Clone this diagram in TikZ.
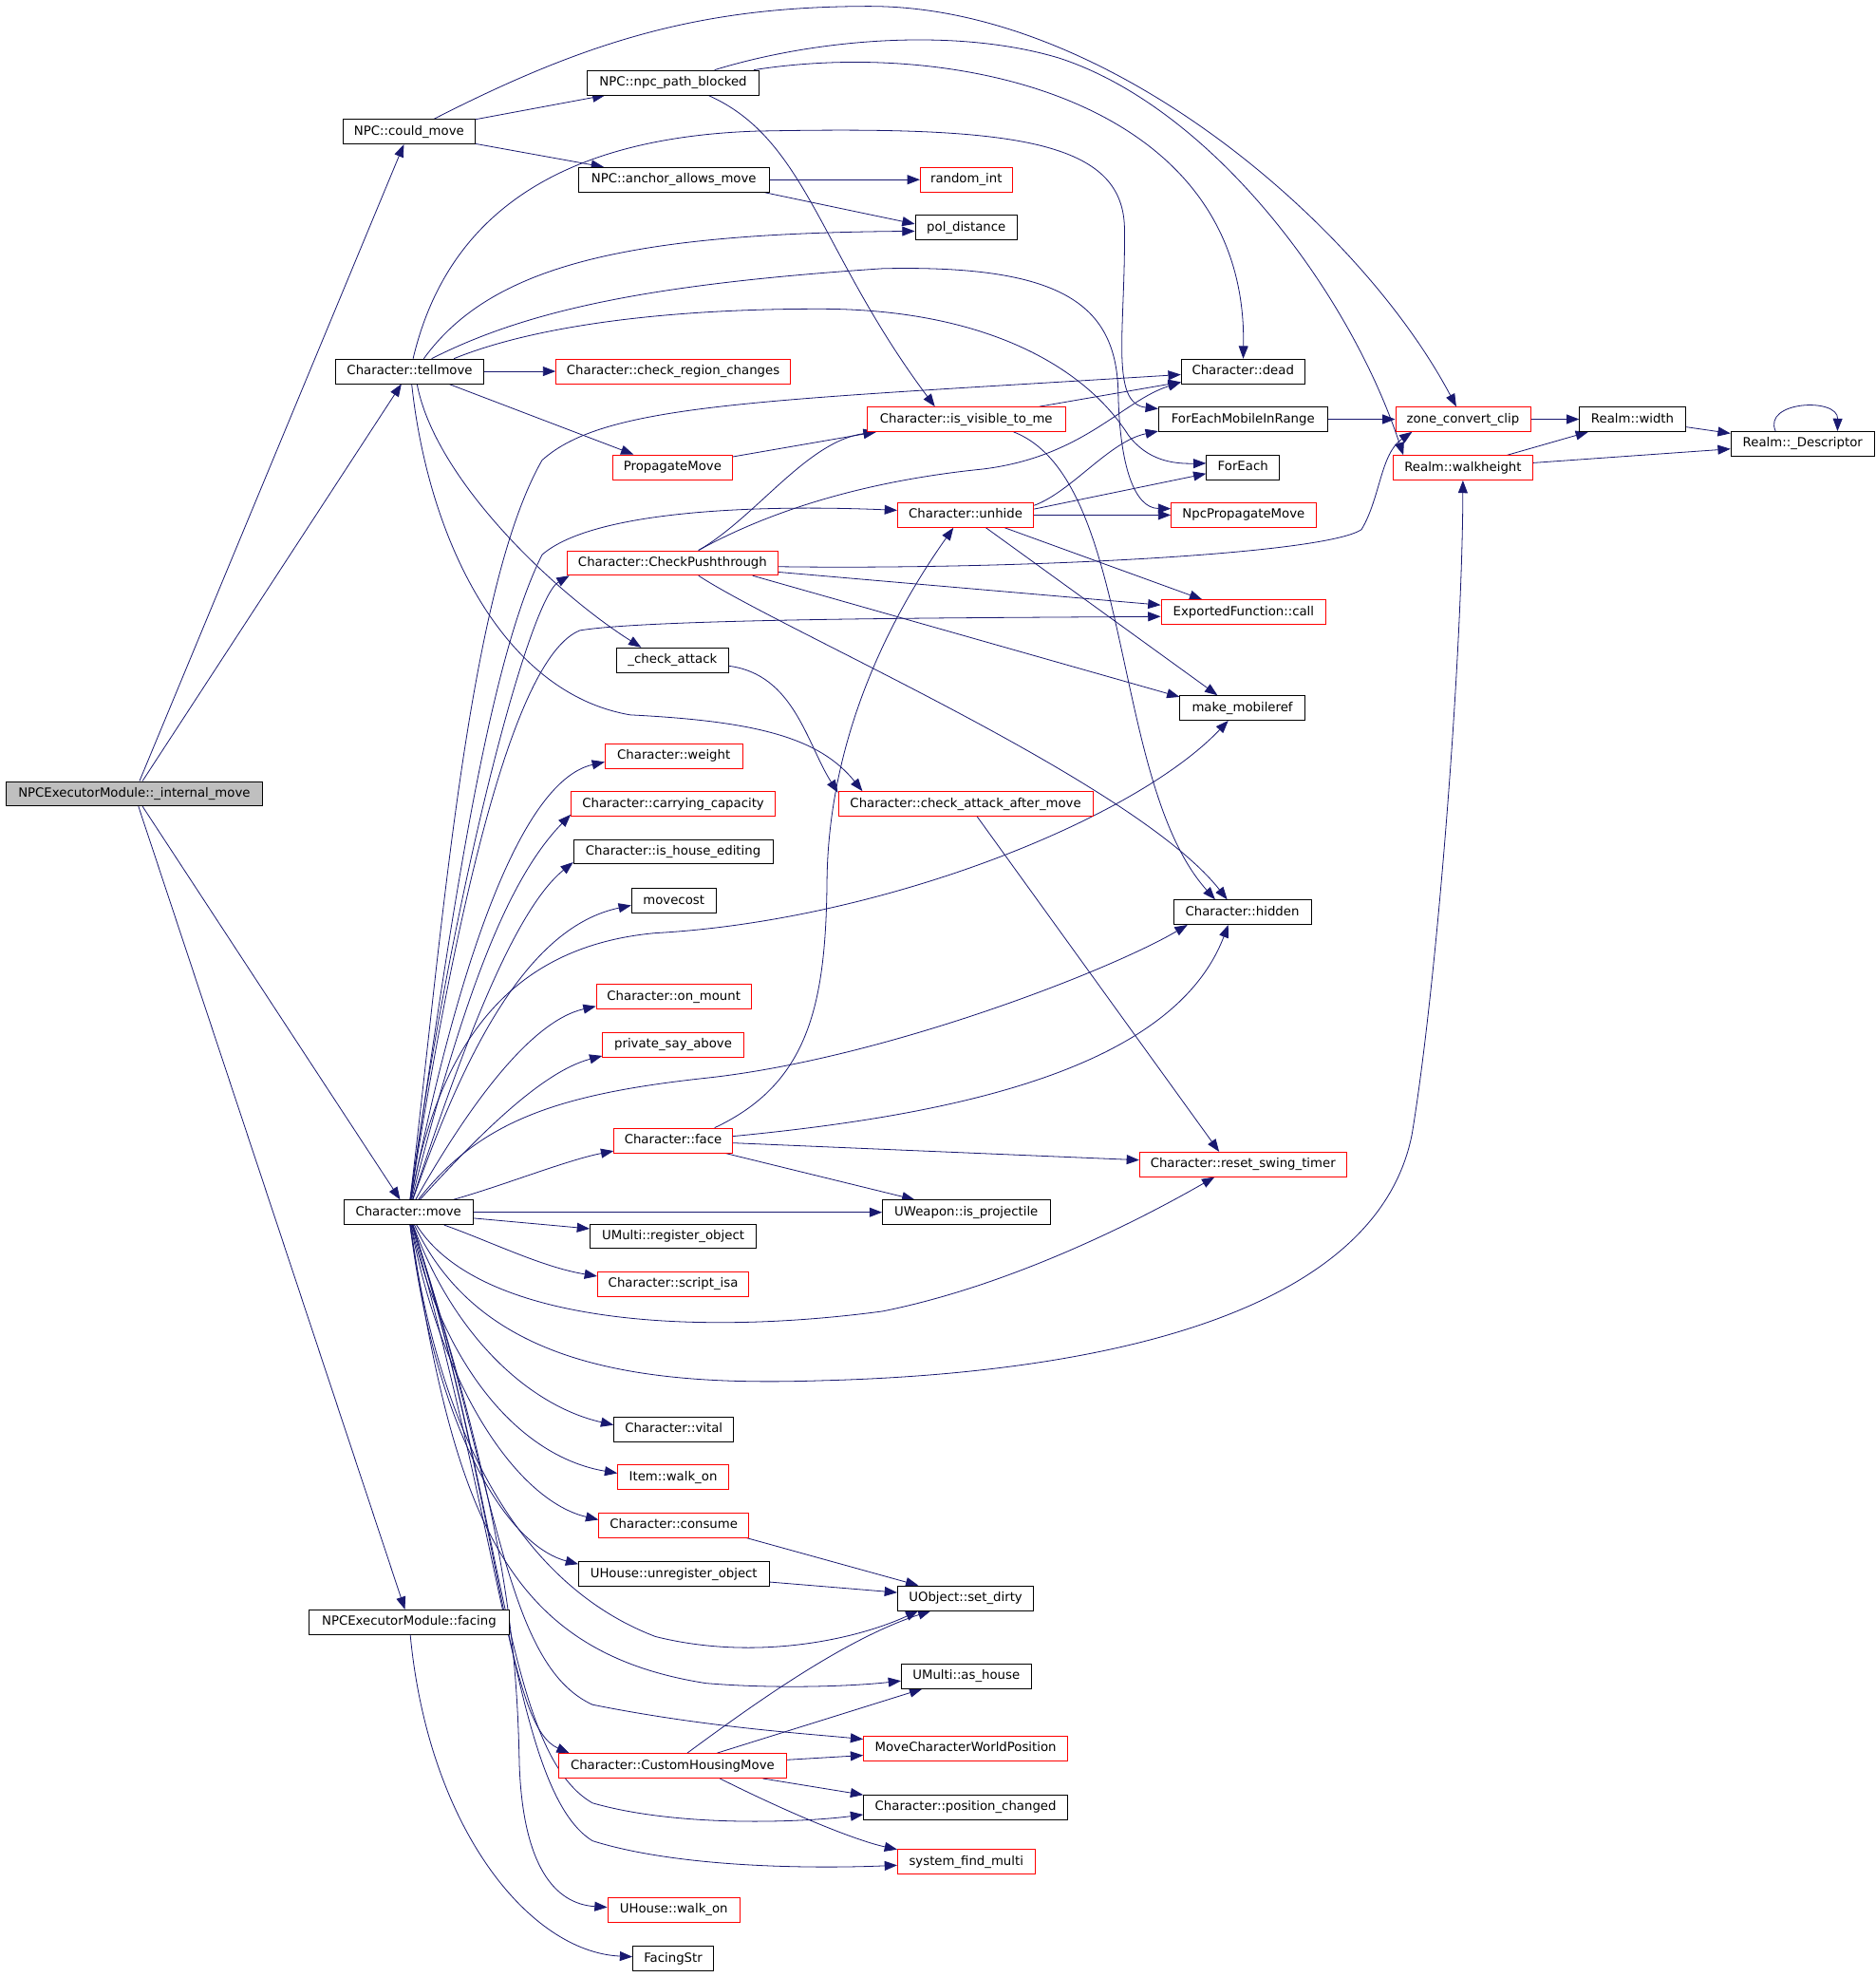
\documentclass[tikz,border=0pt]{standalone}
\usepackage{fontspec}
\setmainfont{DejaVu Sans}
\usetikzlibrary{arrows.meta,backgrounds}
\definecolor{edgeblue}{HTML}{191970}
\definecolor{rootgray}{HTML}{BFBFBF}

\begin{document}
\begin{tikzpicture}[x=1pt,y=-1pt]
    % --- Styles ---
    \tikzstyle{func_node}=[draw=black, fill=white, line width=0.6pt, rectangle, inner xsep=2pt, inner ysep=0pt, minimum height=19.5pt, text height=7.4pt, text depth=2.1pt, font=\fontsize{10}{12}\selectfont]
    \tikzstyle{func_red}=[func_node, draw=red]
    \tikzstyle{root_node}=[func_node, fill=rootgray]
    \tikzstyle{call_edge}=[draw=edgeblue, line width=0.6pt, -{Triangle[length=10pt,width=7.5pt]}]

    \useasboundingbox (0,0) rectangle (1488,1568);

    % --- 1. Caller ---
    \node[root_node, minimum width=204pt] (root) at (106.5,629.5) {NPCExecutorModule::\_internal\_move};

    % --- 2. First column ---
    \node[func_node, minimum width=105pt] (could) at (324.5,104.5) {NPC::could\_move};
    \node[func_node, minimum width=118pt] (tellmove) at (325,294.5) {Character::tellmove};
    \node[func_node, minimum width=102pt] (move) at (324,961.5) {Character::move};
    \node[func_node, minimum width=159pt] (facing) at (324.5,1286.5) {NPCExecutorModule::facing};

    % --- 3. Second column ---
    \node[func_node, minimum width=136pt] (pathblk) at (534,65.5) {NPC::npc\_path\_blocked};
    \node[func_node, minimum width=151pt] (anchor) at (534.5,142.5) {NPC::anchor\_allows\_move};
    \node[func_red, minimum width=186pt] (regionchg) at (534,294.5) {Character::check\_region\_changes};
    \node[func_red, minimum width=95pt] (propmove) at (533.5,370.5) {PropagateMove};
    \node[func_red, minimum width=167pt] (pushthr) at (533.5,446.5) {Character::CheckPushthrough};
    \node[func_node, minimum width=89pt] (chkatt) at (533.5,523.5) {\_check\_attack};
    \node[func_red, minimum width=109pt] (weight) at (534.5,599.5) {Character::weight};
    \node[func_red, minimum width=162pt] (carrycap) at (534,637.5) {Character::carrying\_capacity};
    \node[func_node, minimum width=158pt] (houseed) at (534,675.5) {Character::is\_house\_editing};
    \node[func_node, minimum width=67pt] (movecost) at (534.5,714.5) {movecost};
    \node[func_red, minimum width=123pt] (onmount) at (534.5,790.5) {Character::on\_mount};
    \node[func_red, minimum width=112pt] (sayabove) at (534,828.5) {private\_say\_above};
    \node[func_red, minimum width=94pt] (face) at (534,904.5) {Character::face};
    \node[func_node, minimum width=132pt] (regobj) at (534,980.5) {UMulti::register\_object};
    \node[func_red, minimum width=120pt] (scriptisa) at (534,1018.5) {Character::script\_isa};
    \node[func_node, minimum width=95pt] (vital) at (534.5,1133.5) {Character::vital};
    \node[func_red, minimum width=88pt] (walkon) at (534,1171.5) {Item::walk\_on};
    \node[func_red, minimum width=119pt] (consume) at (534.5,1209.5) {Character::consume};
    \node[func_node, minimum width=151pt] (unregobj) at (534.5,1248.5) {UHouse::unregister\_object};
    \node[func_red, minimum width=181pt] (chmove) at (533.5,1400.5) {Character::CustomHousingMove};
    \node[func_red, minimum width=105pt] (hwalkon) at (534.5,1514.5) {UHouse::walk\_on};
    \node[func_node, minimum width=64pt] (facingstr) at (534,1553.5) {FacingStr};

    % --- 4. Third column ---
    \node[func_red, minimum width=73pt] (randint) at (766.5,142.5) {random\_int};
    \node[func_node, minimum width=81pt] (poldist) at (766.5,180.5) {pol\_distance};
    \node[func_red, minimum width=157pt] (visible) at (766.5,332.5) {Character::is\_visible\_to\_me};
    \node[func_red, minimum width=108pt] (unhide) at (766,408.5) {Character::unhide};
    \node[func_red, minimum width=202pt] (chkafter) at (766,637.5) {Character::check\_attack\_after\_move};
    \node[func_node, minimum width=133pt] (isproj) at (766.5,961.5) {UWeapon::is\_projectile};
    \node[func_node, minimum width=108pt] (setdirty) at (766,1267.5) {UObject::set\_dirty};
    \node[func_node, minimum width=103pt] (ashouse) at (766.5,1329.5) {UMulti::as\_house};
    \node[func_red, minimum width=162pt] (movecwp) at (766,1386.5) {MoveCharacterWorldPosition};
    \node[func_node, minimum width=162pt] (poschg) at (766,1433.5) {Character::position\_changed};
    \node[func_red, minimum width=109pt] (sysfind) at (766.5,1476.5) {system\_find\_multi};

    % --- 5. Fourth column ---
    \node[func_node, minimum width=98pt] (dead) at (986,294.5) {Character::dead};
    \node[func_node, minimum width=134pt] (foreachmob) at (986,332.5) {ForEachMobileInRange};
    \node[func_node, minimum width=58pt] (foreach) at (986,370.5) {ForEach};
    \node[func_red, minimum width=115pt] (npcprop) at (986.5,408.5) {NpcPropagateMove};
    \node[func_red, minimum width=131pt] (efcall) at (986.5,485.5) {ExportedFunction::call};
    \node[func_node, minimum width=99pt] (mobref) at (985.5,561.5) {make\_mobileref};
    \node[func_node, minimum width=109pt] (hidden) at (985.5,723.5) {Character::hidden};
    \node[func_red, minimum width=164pt] (resetsw) at (986,923.5) {Character::reset\_swing\_timer};

    % --- 6. Realm column ---
    \node[func_red, minimum width=107pt] (zoneclip) at (1160.5,332.5) {zone\_convert\_clip};
    \node[func_red, minimum width=111pt] (walkh) at (1160.5,371) {Realm::walkheight};
    \node[func_node, minimum width=84pt] (rwidth) at (1295,332.5) {Realm::width};
    \node[func_node, minimum width=114pt] (rdesc) at (1430,352) {Realm::\_Descriptor};

    \begin{scope}[on background layer]
    \fill[white] (0,0) rectangle (1488,1568);

    % --- 7. Calls of _internal_move ---
    \draw[call_edge] (root) -- (could);
    \draw[call_edge] (root) -- (tellmove);
    \draw[call_edge] (root) -- (move);
    \draw[call_edge] (root) -- (facing);

    % --- 8. NPC calls ---
    \draw[call_edge] (could) -- (pathblk);
    \draw[call_edge] (could) -- (anchor);
    \draw[call_edge] (could) .. controls (470,30) and (560,5) .. (690,5) .. controls (880,5) and (1080,180) .. (zoneclip);
    \draw[call_edge] (pathblk.-20) .. controls (640,110) and (650,200) .. (visible.158);
    \draw[call_edge] (pathblk) .. controls (760,30) and (990,80) .. (dead);
    \draw[call_edge] (pathblk) .. controls (650,30) and (760,22) .. (840,46) .. controls (960,85) and (1070,230) .. (walkh.168);
    \draw[call_edge] (anchor) -- (randint);
    \draw[call_edge] (anchor.-8) -- (poldist.176);

    % --- 9. tellmove ---
    \draw[call_edge] (tellmove) -- (regionchg);
    \draw[call_edge] (tellmove.-18) -- (propmove.162);
    \draw[call_edge] (tellmove.-60) .. controls (345,380) and (440,470) .. (chkatt.158);
    \draw[call_edge] (tellmove.-81) .. controls (340,430) and (400,550) .. (500,567) .. controls (600,572) and (650,585) .. (chkafter.173);
    \draw[call_edge] (tellmove.42) .. controls (390,210) and (500,185) .. (poldist.184);
    \draw[call_edge] (tellmove.75) .. controls (350,190) and (420,110) .. (600,104) .. controls (800,100) and (890,110) .. (892,180) .. controls (893,260) and (880,320) .. (foreachmob.173);
    \draw[call_edge] (tellmove.30) .. controls (420,245) and (520,225) .. (700,213) .. controls (840,210) and (885,240) .. (887,310) .. controls (888,370) and (900,403) .. (npcprop.175);
    \draw[call_edge] (tellmove.16) .. controls (420,260) and (520,245) .. (650,245) .. controls (780,245) and (860,290) .. (895,345) .. controls (910,365) and (930,368) .. (foreach.174);

    % --- 10. Middle calls ---
    \draw[call_edge] (propmove) -- (visible.188);
    \draw[call_edge] (visible) -- (dead);
    \draw[call_edge] (visible.345) .. controls (900,380) and (880,620) .. (hidden.155);
    \draw[call_edge] (pushthr.26) .. controls (600,410) and (640,350) .. (visible.188);
    \draw[call_edge] (pushthr.26) .. controls (620,400) and (700,380) .. (780,372) .. controls (860,362) and (890,318) .. (dead.190);
    \draw[call_edge] (pushthr.-2) .. controls (800,452) and (1050,440) .. (1080,420) .. controls (1095,395) and (1095,360) .. (zoneclip.194);
    \draw[call_edge] (pushthr) -- (efcall);
    \draw[call_edge] (pushthr.-9) -- (mobref.170);
    \draw[call_edge] (pushthr.-26) .. controls (620,500) and (900,620) .. (hidden.140);
    \draw[call_edge] (unhide.8) .. controls (850,390) and (880,350) .. (foreachmob.188);
    \draw[call_edge] (unhide.5) -- (foreach.190);
    \draw[call_edge] (unhide) -- (npcprop);
    \draw[call_edge] (unhide.-18) -- (efcall.163);
    \draw[call_edge] (unhide.-32) -- (mobref.153);
    \draw[call_edge] (chkatt.-6) .. controls (630,535) and (640,590) .. (chkafter.175);
    \draw[call_edge] (chkafter.-48) -- (resetsw.152);

    % --- 11. Realm ---
    \draw[call_edge] (foreachmob) -- (zoneclip);
    \draw[call_edge] (zoneclip) -- (rwidth);
    \draw[call_edge] (rwidth) -- (rdesc);
    \draw[call_edge] (walkh) -- (rwidth);
    \draw[call_edge] (walkh) -- (rdesc);
    \draw[call_edge] (rdesc.155) .. controls (1398,318) and (1458,315) .. (rdesc.20);

    % --- 12. face ---
    \draw[call_edge] (face.17) .. controls (640,860) and (655,800) .. (656,700) .. controls (657,570) and (720,470) .. (unhide.226);
    \draw[call_edge] (face.4) .. controls (750,885) and (930,850) .. (hidden.222);
    \draw[call_edge] (face) -- (resetsw);
    \draw[call_edge] (face) -- (isproj);

    % --- 13. move, upwards ---
    \draw[call_edge] (move) .. controls (350,750) and (370,470) .. (430,365) .. controls (480,320) and (600,318) .. (dead.183);
    \draw[call_edge] (move) .. controls (355,750) and (385,530) .. (430,440) .. controls (470,405) and (600,400) .. (unhide.176);
    \draw[call_edge] (move) .. controls (360,700) and (420,475) .. (pushthr.187);
    \draw[call_edge] (move) .. controls (365,700) and (410,520) .. (460,500) .. controls (520,490) and (800,490) .. (efcall.183);
    \draw[call_edge] (move) .. controls (360,780) and (410,620) .. (weight.185);
    \draw[call_edge] (move) .. controls (365,800) and (400,700) .. (carrycap.186);
    \draw[call_edge] (move) .. controls (370,820) and (410,720) .. (houseed.186);
    \draw[call_edge] (move) .. controls (370,830) and (420,735) .. (movecost.186);
    \draw[call_edge] (move) .. controls (350,820) and (410,750) .. (520,740) .. controls (700,730) and (900,650) .. (mobref.222);
    \draw[call_edge] (move) .. controls (370,880) and (420,810) .. (onmount.187);
    \draw[call_edge] (move) .. controls (380,900) and (430,850) .. (sayabove.189);
    \draw[call_edge] (move) .. controls (380,890) and (440,868) .. (560,855) .. controls (700,840) and (880,770) .. (hidden.193);
    \draw[call_edge] (move) .. controls (400,940) and (450,920) .. (face.190);

    % --- 14. move, downwards ---
    \draw[call_edge] (move) -- (isproj);
    \draw[call_edge] (move) -- (regobj);
    \draw[call_edge] (move) .. controls (390,985) and (430,1005) .. (scriptisa.174);
    \draw[call_edge] (move) .. controls (380,1050) and (550,1060) .. (700,1040) .. controls (800,1020) and (900,970) .. (resetsw.204);
    \draw[call_edge] (move) .. controls (380,1080) and (500,1100) .. (650,1095) .. controls (850,1090) and (1090,1050) .. (1120,900) .. controls (1140,780) and (1160,520) .. (walkh);
    \draw[call_edge] (move) .. controls (360,1060) and (420,1115) .. (vital.176);
    \draw[call_edge] (move) .. controls (350,1080) and (410,1155) .. (walkon.176);
    \draw[call_edge] (move) .. controls (350,1100) and (410,1190) .. (consume.176);
    \draw[call_edge] (move) .. controls (345,1130) and (400,1225) .. (unregobj.174);
    \draw[call_edge] (move) .. controls (350,1150) and (420,1260) .. (520,1298) .. controls (600,1318) and (680,1300) .. (setdirty.195);
    \draw[call_edge] (move) .. controls (360,1200) and (400,1310) .. (560,1335) .. controls (620,1340) and (680,1337) .. (ashouse.184);
    \draw[call_edge] (move) .. controls (395,1180) and (400,1320) .. (470,1352) .. controls (560,1370) and (640,1375) .. (movecwp.175);
    \draw[call_edge] (move) .. controls (400,1240) and (405,1370) .. (chmove.173);
    \draw[call_edge] (move) .. controls (400,1200) and (400,1390) .. (470,1430) .. controls (540,1450) and (640,1445) .. (poschg.184);
    \draw[call_edge] (move) .. controls (400,1200) and (405,1420) .. (470,1460) .. controls (540,1482) and (650,1482) .. (sysfind.183);
    \draw[call_edge] (move) .. controls (400,1200) and (410,1300) .. (412,1400) .. controls (415,1480) and (440,1510) .. (hwalkon.178);

    % --- 15. Lower calls ---
    \draw[call_edge] (consume.-10) -- (setdirty.165);
    \draw[call_edge] (unregobj) -- (setdirty);
    \draw[call_edge] (chmove.41) .. controls (600,1350) and (670,1300) .. (setdirty.200);
    \draw[call_edge] (chmove.16) -- (ashouse.196);
    \draw[call_edge] (chmove.3) -- (movecwp.184);
    \draw[call_edge] (chmove.-8) -- (poschg.173);
    \draw[call_edge] (chmove.-15) .. controls (630,1440) and (680,1460) .. (sysfind.170);
    \draw[call_edge] (facing) .. controls (340,1450) and (420,1548) .. (facingstr);
    \end{scope}
\end{tikzpicture}
\end{document}
